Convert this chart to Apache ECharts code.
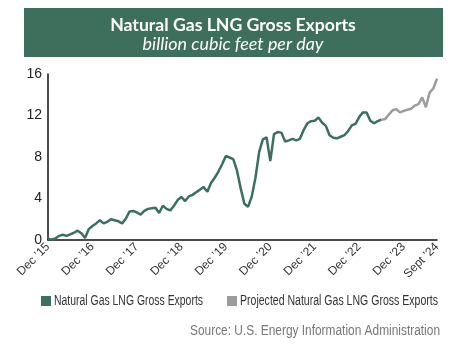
<!DOCTYPE html>
<html><head><meta charset="utf-8">
<script src="https://cdn.jsdelivr.net/npm/echarts@6/dist/echarts.min.js"></script>
<style>html,body{margin:0;padding:0;background:#fff}#c{width:453px;height:363px}</style>
</head><body><div id="c"></div>
<script>
const months = [];
(function(){const n=['Jan','Feb','Mar','Apr','May','Jun','Jul','Aug','Sep','Oct','Nov','Dec'];
for(let i=0;i<106;i++){const m=(11+i)%12, y=2015+Math.floor((11+i)/12); months.push(n[m]+' '+y);}})();
const tickLabels = {0:'Dec \u201915',12:'Dec \u201916',24:'Dec \u201917',36:'Dec \u201918',48:'Dec \u201919',60:'Dec \u201920',72:'Dec \u201921',84:'Dec \u201922',96:'Dec \u201923',105:'Sept \u201924'};
const actual = [0.1,0.05,0.15,0.4,0.5,0.4,0.55,0.7,0.9,0.65,0.2,1.05,1.35,1.6,1.9,1.6,1.75,2.0,1.9,1.8,1.6,2.05,2.75,2.8,2.65,2.45,2.8,3.0,3.05,3.1,2.6,3.3,3.0,2.85,3.3,3.85,4.15,3.75,4.2,4.35,4.6,4.85,5.1,4.65,5.5,6.0,6.6,7.3,8.1,7.95,7.8,6.7,5.0,3.5,3.2,4.2,6.0,8.5,9.7,9.9,7.6,10.2,10.4,10.35,9.5,9.6,9.75,9.6,9.75,10.6,11.25,11.45,11.5,11.8,11.3,11.0,10.1,9.85,9.8,9.95,10.1,10.5,11.05,11.2,11.85,12.3,12.3,11.5,11.25,11.45,11.6];
const projected = [11.6,11.65,12.1,12.5,12.6,12.3,12.45,12.55,12.65,12.95,13.1,13.75,12.8,14.2,14.6,15.55];
const projSeries = new Array(90).fill(null).concat(projected);
const yTicks = [0,4,8,12,16];
const seriesNames = ['Natural Gas LNG Gross Exports','Projected Natural Gas LNG Gross Exports'];
const GREEN='#3c6f5d', GRAY='#9c9c9e';
const FN='"Liberation Sans",Arial,sans-serif';
const ctx = document.createElement('canvas').getContext('2d');
function w(text,font){ctx.font=font;return ctx.measureText(text).width;}
function fitScale(text,font,target){return target/w(text,font);}
const legFont='14px '+FN, srcFont='14px '+FN;
const tFont = s=>'bold '+s+'px Lato', sFont = s=>'italic '+s+'px Lato';
const tSize = 16*246/w('Natural Gas LNG Gross Exports',tFont(16));
const sSize = 16*181/w('billion cubic feet per day',sFont(16));
const chart = echarts.init(document.getElementById('c'));
chart.setOption({
  animation:false,
  graphic:[
    {type:'rect',shape:{x:24,y:8,width:419,height:49},style:{fill:'#3e6e5c'}},
    {type:'text',x:233,y:25,style:{text:'Natural Gas LNG Gross Exports',fill:'#fff',font:tFont(tSize),align:'center',verticalAlign:'middle'}},
    {type:'text',x:233,y:44,style:{text:'billion cubic feet per day',fill:'#fff',font:sFont(sSize),align:'center',verticalAlign:'middle'}},
    {type:'rect',shape:{x:41,y:296,width:10,height:10},style:{fill:GREEN}},
    {type:'text',x:54,y:301,scaleX:fitScale(seriesNames[0],legFont,149),style:{text:seriesNames[0],fill:'#333',font:legFont,align:'left',verticalAlign:'middle'}},
    {type:'rect',shape:{x:227,y:296,width:10,height:10},style:{fill:GRAY}},
    {type:'text',x:240,y:301,scaleX:fitScale(seriesNames[1],legFont,198),style:{text:seriesNames[1],fill:'#333',font:legFont,align:'left',verticalAlign:'middle'}},
    {type:'text',x:440,y:331,scaleX:fitScale('Source: U.S. Energy Information Administration',srcFont,250),style:{text:'Source: U.S. Energy Information Administration',fill:'#777',font:srcFont,align:'right',verticalAlign:'middle'}}
  ],
  grid:{left:48,right:16,top:74,bottom:123,containLabel:false},
  xAxis:{type:'category',data:months,boundaryGap:false,
    axisLine:{lineStyle:{color:'#111',width:1.5}},axisTick:{show:false},
    axisLabel:{interval:(i)=>tickLabels[i]!==undefined,formatter:(v,i)=>tickLabels[i]||'',rotate:45,
      fontFamily:FN,fontSize:12,color:'#333',margin:5}},
  yAxis:{type:'value',min:0,max:16,interval:4,splitLine:{show:false},
    axisLine:{show:true,lineStyle:{color:'#111',width:1.5}},axisTick:{show:false},
    axisLabel:{fontFamily:FN,fontSize:14,color:'#222',margin:6,formatter:(v)=>yTicks.includes(v)?String(v):''}},
  series:[
    {name:seriesNames[0],type:'line',data:actual,symbol:'none',lineStyle:{color:GREEN,width:2.5},itemStyle:{color:GREEN}},
    {name:seriesNames[1],type:'line',data:projSeries,symbol:'none',lineStyle:{color:GRAY,width:2.5},itemStyle:{color:GRAY}}
  ]
});
</script></body></html>
